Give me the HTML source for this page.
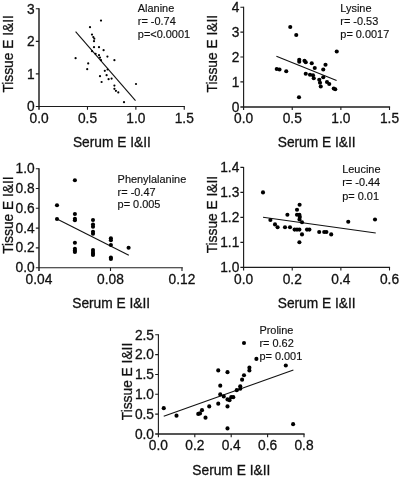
<!DOCTYPE html>
<html><head><meta charset="utf-8"><title>Correlation plots</title>
<style>
html,body{margin:0;padding:0;background:#fff;}
body{width:400px;height:477px;overflow:hidden;font-family:"Liberation Sans",sans-serif;}
svg{display:block;will-change:transform;filter:grayscale(1);}
text{font-family:"Liberation Sans",sans-serif;fill:#111;stroke:#111;stroke-width:0.3px;}
.ax{font-size:14.2px;}
.an{font-size:11.4px;stroke-width:0.16px;}
circle{fill:#000;}
</style></head><body>
<svg width="400" height="477" viewBox="0 0 400 477"><rect width="400" height="477" fill="#fff"/><g><line x1="39.0" y1="8.3" x2="39.0" y2="109.7" stroke="#1c1c1c" stroke-width="1.45"/><line x1="35.8" y1="106.5" x2="184.9" y2="106.5" stroke="#1c1c1c" stroke-width="1.05"/><path d="M87.48 106.5v3.2M135.87 106.5v3.2M184.25 106.5v3.2M39.0 73.9h-3.2M39.0 41.35h-3.2M39.0 8.8h-3.2" fill="none" stroke="#1c1c1c" stroke-width="1.1"/><text transform="translate(39.1 122.8) scale(0.97 1)" text-anchor="middle" class="ax">0.0</text><text transform="translate(87.48 122.8) scale(0.97 1)" text-anchor="middle" class="ax">0.5</text><text transform="translate(135.87 122.8) scale(0.97 1)" text-anchor="middle" class="ax">1.0</text><text transform="translate(184.25 122.8) scale(0.97 1)" text-anchor="middle" class="ax">1.5</text><text transform="translate(34.7 111.15) scale(0.97 1)" text-anchor="end" class="ax">0</text><text transform="translate(34.7 78.6) scale(0.97 1)" text-anchor="end" class="ax">1</text><text transform="translate(34.7 46.05) scale(0.97 1)" text-anchor="end" class="ax">2</text><text transform="translate(34.7 13.5) scale(0.97 1)" text-anchor="end" class="ax">3</text><text transform="translate(111.9 146.7) scale(0.97 1)" text-anchor="middle" class="ax">Serum E I&amp;II</text><text transform="translate(12.9 53.9) rotate(-90) scale(0.97 1)" text-anchor="middle" class="ax">Tissue E I&amp;II</text><text transform="translate(137.8 12.0) scale(0.96 1)" class="an">Alanine</text><text transform="translate(137.8 24.75) scale(0.96 1)" class="an">r= -0.74</text><text transform="translate(137.8 37.5) scale(0.96 1)" class="an">p=&lt;0.0001</text><line x1="75.6" y1="31.6" x2="135.5" y2="100.6" stroke="#111" stroke-width="1.1"/><circle cx="101" cy="20.6" r="1.1"/><circle cx="90" cy="27.2" r="1.1"/><circle cx="92" cy="34.6" r="1.1"/><circle cx="93.3" cy="37.1" r="1.1"/><circle cx="94.3" cy="38.7" r="1.1"/><circle cx="94" cy="41.2" r="1.1"/><circle cx="94" cy="47.2" r="1.1"/><circle cx="99" cy="47.2" r="1.1"/><circle cx="103.6" cy="50.2" r="1.1"/><circle cx="75.6" cy="58.2" r="1.1"/><circle cx="107.4" cy="56.6" r="1.1"/><circle cx="114.4" cy="60.2" r="1.1"/><circle cx="88.2" cy="63.4" r="1.1"/><circle cx="87.2" cy="69.2" r="1.1"/><circle cx="92" cy="51.2" r="1.1"/><circle cx="95.6" cy="53.8" r="1.1"/><circle cx="99" cy="55.2" r="1.1"/><circle cx="100" cy="57.6" r="1.1"/><circle cx="101" cy="60.2" r="1.1"/><circle cx="107.6" cy="69.5" r="1.1"/><circle cx="104.8" cy="70.8" r="1.1"/><circle cx="100" cy="76.2" r="1.1"/><circle cx="106.6" cy="75.2" r="1.1"/><circle cx="108.6" cy="79.2" r="1.1"/><circle cx="111.6" cy="78.6" r="1.1"/><circle cx="101.6" cy="82.0" r="1.1"/><circle cx="114.4" cy="85.6" r="1.1"/><circle cx="114.4" cy="88.8" r="1.1"/><circle cx="115.9" cy="90.8" r="1.1"/><circle cx="118.3" cy="92.4" r="1.1"/><circle cx="136" cy="84.0" r="1.1"/><circle cx="124" cy="102.2" r="1.1"/></g>
<g><line x1="243.6" y1="6.8" x2="243.6" y2="110.1" stroke="#1c1c1c" stroke-width="1.15"/><line x1="240.4" y1="106.9" x2="390.1" y2="106.9" stroke="#1c1c1c" stroke-width="1.5"/><path d="M292.23 106.9v3.2M340.87 106.9v3.2M389.5 106.9v3.2M243.6 81.92h-3.2M243.6 57.05h-3.2M243.6 32.17h-3.2M243.6 7.3h-3.2" fill="none" stroke="#1c1c1c" stroke-width="1.1"/><text transform="translate(243.6 122.9) scale(0.97 1)" text-anchor="middle" class="ax">0.0</text><text transform="translate(292.23 122.9) scale(0.97 1)" text-anchor="middle" class="ax">0.5</text><text transform="translate(340.87 122.9) scale(0.97 1)" text-anchor="middle" class="ax">1.0</text><text transform="translate(389.5 122.9) scale(0.97 1)" text-anchor="middle" class="ax">1.5</text><text transform="translate(239.3 111.6) scale(0.97 1)" text-anchor="end" class="ax">0</text><text transform="translate(239.3 86.72) scale(0.97 1)" text-anchor="end" class="ax">1</text><text transform="translate(239.3 61.85) scale(0.97 1)" text-anchor="end" class="ax">2</text><text transform="translate(239.3 36.97) scale(0.97 1)" text-anchor="end" class="ax">3</text><text transform="translate(239.3 12.1) scale(0.97 1)" text-anchor="end" class="ax">4</text><text transform="translate(316.7 147.3) scale(0.97 1)" text-anchor="middle" class="ax">Serum E I&amp;II</text><text transform="translate(216.5 53.7) rotate(-90) scale(0.97 1)" text-anchor="middle" class="ax">Tissue E I&amp;II</text><text transform="translate(340.3 11.7) scale(0.96 1)" class="an">Lysine</text><text transform="translate(340.3 24.5) scale(0.96 1)" class="an">r= -0.53</text><text transform="translate(340.3 37.5) scale(0.96 1)" class="an">p= 0.0017</text><line x1="276.4" y1="56.3" x2="336.6" y2="80.6" stroke="#111" stroke-width="1.1"/><circle cx="290.25" cy="27.0" r="2.06"/><circle cx="296.25" cy="35.0" r="2.06"/><circle cx="336.75" cy="51.5" r="2.06"/><circle cx="276.75" cy="69.0" r="2.06"/><circle cx="279.5" cy="69.5" r="2.06"/><circle cx="286.25" cy="71.25" r="2.06"/><circle cx="299.25" cy="59.75" r="2.06"/><circle cx="299.25" cy="61.75" r="2.06"/><circle cx="304.5" cy="60.75" r="2.06"/><circle cx="305.75" cy="62.25" r="2.06"/><circle cx="311.75" cy="63.25" r="2.06"/><circle cx="314.75" cy="68.0" r="2.06"/><circle cx="325.5" cy="64.75" r="2.06"/><circle cx="323.25" cy="69.5" r="2.06"/><circle cx="305.75" cy="73.75" r="2.06"/><circle cx="310" cy="74.75" r="2.06"/><circle cx="313" cy="75.25" r="2.06"/><circle cx="313.75" cy="78.25" r="2.06"/><circle cx="323.25" cy="77.25" r="2.06"/><circle cx="319.25" cy="79.75" r="2.06"/><circle cx="320" cy="82.75" r="2.06"/><circle cx="320.75" cy="86.5" r="2.06"/><circle cx="327" cy="82.0" r="2.06"/><circle cx="329.25" cy="84.0" r="2.06"/><circle cx="333.75" cy="88.5" r="2.06"/><circle cx="335.25" cy="89.25" r="2.06"/><circle cx="299.0" cy="97.25" r="2.06"/></g>
<g><line x1="39.0" y1="168.3" x2="39.0" y2="270.9" stroke="#1c1c1c" stroke-width="1.45"/><line x1="35.8" y1="267.7" x2="182.8" y2="267.7" stroke="#1c1c1c" stroke-width="1.15"/><path d="M110.5 267.7v3.2M182.0 267.7v3.2M39.0 247.84h-3.2M39.0 228.08h-3.2M39.0 208.32h-3.2M39.0 188.56h-3.2M39.0 168.8h-3.2" fill="none" stroke="#1c1c1c" stroke-width="1.1"/><text transform="translate(39.0 284.1) scale(0.97 1)" text-anchor="middle" class="ax">0.04</text><text transform="translate(110.5 284.1) scale(0.97 1)" text-anchor="middle" class="ax">0.08</text><text transform="translate(182.0 284.1) scale(0.97 1)" text-anchor="middle" class="ax">0.12</text><text transform="translate(34.6 272.2) scale(0.97 1)" text-anchor="end" class="ax">0.0</text><text transform="translate(34.6 252.44) scale(0.97 1)" text-anchor="end" class="ax">0.2</text><text transform="translate(34.6 232.68) scale(0.97 1)" text-anchor="end" class="ax">0.4</text><text transform="translate(34.6 212.92) scale(0.97 1)" text-anchor="end" class="ax">0.6</text><text transform="translate(34.6 193.16) scale(0.97 1)" text-anchor="end" class="ax">0.8</text><text transform="translate(34.6 173.4) scale(0.97 1)" text-anchor="end" class="ax">1.0</text><text transform="translate(111.2 307.7) scale(0.97 1)" text-anchor="middle" class="ax">Serum E I&amp;II</text><text transform="translate(13.0 215.1) rotate(-90) scale(0.97 1)" text-anchor="middle" class="ax">Tissue E I&amp;II</text><text transform="translate(117.6 182.6) scale(0.96 1)" class="an">Phenylalanine</text><text transform="translate(117.6 195.5) scale(0.96 1)" class="an">r= -0.47</text><text transform="translate(117.6 208.4) scale(0.96 1)" class="an">p= 0.005</text><line x1="57" y1="219" x2="128.8" y2="255.3" stroke="#111" stroke-width="1.1"/><circle cx="57.0" cy="205.25" r="2.06"/><circle cx="57.0" cy="219" r="2.06"/><circle cx="74.9" cy="180.25" r="2.06"/><circle cx="74.9" cy="214" r="2.06"/><circle cx="74.9" cy="218.75" r="2.06"/><circle cx="74.9" cy="220.25" r="2.06"/><circle cx="74.9" cy="242.75" r="2.06"/><circle cx="74.9" cy="248.75" r="2.06"/><circle cx="74.9" cy="250.5" r="2.06"/><circle cx="74.9" cy="252" r="2.06"/><circle cx="93.0" cy="220" r="2.06"/><circle cx="93.0" cy="224.5" r="2.06"/><circle cx="93.0" cy="226.75" r="2.06"/><circle cx="93.0" cy="231.75" r="2.06"/><circle cx="93.0" cy="233.75" r="2.06"/><circle cx="93.0" cy="250" r="2.06"/><circle cx="93.0" cy="252" r="2.06"/><circle cx="93.0" cy="253.75" r="2.06"/><circle cx="93.0" cy="255" r="2.06"/><circle cx="110.9" cy="238.25" r="2.06"/><circle cx="110.9" cy="240.25" r="2.06"/><circle cx="110.9" cy="245" r="2.06"/><circle cx="110.9" cy="257.5" r="2.06"/><circle cx="110.9" cy="259" r="2.06"/><circle cx="128.6" cy="247.75" r="2.06"/></g>
<g><line x1="243.6" y1="166.9" x2="243.6" y2="270.6" stroke="#1c1c1c" stroke-width="1.15"/><line x1="240.4" y1="267.4" x2="390.1" y2="267.4" stroke="#1c1c1c" stroke-width="1.4"/><path d="M292.23 267.4v3.2M340.87 267.4v3.2M389.5 267.4v3.2M243.6 242.33h-3.2M243.6 217.35h-3.2M243.6 192.38h-3.2M243.6 167.4h-3.2" fill="none" stroke="#1c1c1c" stroke-width="1.1"/><text transform="translate(243.6 283.5) scale(0.97 1)" text-anchor="middle" class="ax">0.0</text><text transform="translate(292.23 283.5) scale(0.97 1)" text-anchor="middle" class="ax">0.2</text><text transform="translate(340.87 283.5) scale(0.97 1)" text-anchor="middle" class="ax">0.4</text><text transform="translate(389.5 283.5) scale(0.97 1)" text-anchor="middle" class="ax">0.6</text><text transform="translate(239.3 271.7) scale(0.97 1)" text-anchor="end" class="ax">1.0</text><text transform="translate(239.3 246.73) scale(0.97 1)" text-anchor="end" class="ax">1.1</text><text transform="translate(239.3 221.75) scale(0.97 1)" text-anchor="end" class="ax">1.2</text><text transform="translate(239.3 196.78) scale(0.97 1)" text-anchor="end" class="ax">1.3</text><text transform="translate(239.3 171.8) scale(0.97 1)" text-anchor="end" class="ax">1.4</text><text transform="translate(316.7 308.0) scale(0.97 1)" text-anchor="middle" class="ax">Serum E I&amp;II</text><text transform="translate(216.5 214.6) rotate(-90) scale(0.97 1)" text-anchor="middle" class="ax">Tissue E I&amp;II</text><text transform="translate(342.2 173) scale(0.96 1)" class="an">Leucine</text><text transform="translate(342.2 186.3) scale(0.96 1)" class="an">r= -0.44</text><text transform="translate(342.2 199.5) scale(0.96 1)" class="an">p= 0.01</text><line x1="263" y1="217.2" x2="375.75" y2="233" stroke="#111" stroke-width="1.1"/><circle cx="263" cy="192.4" r="2.06"/><circle cx="270.4" cy="220" r="2.06"/><circle cx="275" cy="224.4" r="2.06"/><circle cx="277.6" cy="227.2" r="2.06"/><circle cx="285" cy="227.2" r="2.06"/><circle cx="290" cy="227.2" r="2.06"/><circle cx="287.4" cy="214.8" r="2.06"/><circle cx="299.6" cy="204.8" r="2.06"/><circle cx="297" cy="209.8" r="2.06"/><circle cx="297" cy="214.8" r="2.06"/><circle cx="299.4" cy="214.8" r="2.06"/><circle cx="299.8" cy="216.9" r="2.06"/><circle cx="299.5" cy="219.4" r="2.06"/><circle cx="302" cy="222.2" r="2.06"/><circle cx="294.6" cy="229.6" r="2.06"/><circle cx="297" cy="229.6" r="2.06"/><circle cx="299.4" cy="229.6" r="2.06"/><circle cx="307" cy="229.6" r="2.06"/><circle cx="309.4" cy="229.6" r="2.06"/><circle cx="302" cy="234.4" r="2.06"/><circle cx="299.4" cy="242.2" r="2.06"/><circle cx="319.2" cy="232" r="2.06"/><circle cx="324.2" cy="232" r="2.06"/><circle cx="326.4" cy="232" r="2.06"/><circle cx="331.2" cy="234.4" r="2.06"/><circle cx="348.25" cy="221.75" r="2.06"/><circle cx="375" cy="219.5" r="2.06"/></g>
<g><line x1="158.4" y1="334.3" x2="158.4" y2="437.25" stroke="#1c1c1c" stroke-width="1.1"/><line x1="155.2" y1="434.05" x2="304.6" y2="434.05" stroke="#1c1c1c" stroke-width="1.5"/><path d="M194.8 434.05v3.2M231.2 434.05v3.2M267.6 434.05v3.2M304.0 434.05v3.2M158.4 414.16h-3.2M158.4 394.32h-3.2M158.4 374.48h-3.2M158.4 354.64h-3.2M158.4 334.8h-3.2" fill="none" stroke="#1c1c1c" stroke-width="1.1"/><text transform="translate(158.4 450.4) scale(0.97 1)" text-anchor="middle" class="ax">0.0</text><text transform="translate(194.8 450.4) scale(0.97 1)" text-anchor="middle" class="ax">0.2</text><text transform="translate(231.2 450.4) scale(0.97 1)" text-anchor="middle" class="ax">0.4</text><text transform="translate(267.6 450.4) scale(0.97 1)" text-anchor="middle" class="ax">0.6</text><text transform="translate(304.0 450.4) scale(0.97 1)" text-anchor="middle" class="ax">0.8</text><text transform="translate(154.0 438.7) scale(0.97 1)" text-anchor="end" class="ax">0.0</text><text transform="translate(154.0 418.86) scale(0.97 1)" text-anchor="end" class="ax">0.5</text><text transform="translate(154.0 399.02) scale(0.97 1)" text-anchor="end" class="ax">1.0</text><text transform="translate(154.0 379.18) scale(0.97 1)" text-anchor="end" class="ax">1.5</text><text transform="translate(154.0 359.34) scale(0.97 1)" text-anchor="end" class="ax">2.0</text><text transform="translate(154.0 339.5) scale(0.97 1)" text-anchor="end" class="ax">2.5</text><text transform="translate(231.3 475.2) scale(0.97 1)" text-anchor="middle" class="ax">Serum E I&amp;II</text><text transform="translate(131.8 381.5) rotate(-90) scale(0.97 1)" text-anchor="middle" class="ax">Tissue E I&amp;II</text><text transform="translate(259.4 333.6) scale(0.96 1)" class="an">Proline</text><text transform="translate(259.4 347.1) scale(0.96 1)" class="an">r= 0.62</text><text transform="translate(259.4 359.9) scale(0.96 1)" class="an">p= 0.001</text><line x1="163.75" y1="416.25" x2="293.4" y2="370" stroke="#111" stroke-width="1.1"/><circle cx="163.75" cy="408.15" r="2.06"/><circle cx="176.5" cy="415.65" r="2.06"/><circle cx="198.25" cy="413.9" r="2.06"/><circle cx="200" cy="413.4" r="2.06"/><circle cx="202" cy="410.15" r="2.06"/><circle cx="205.5" cy="417.65" r="2.06"/><circle cx="209.25" cy="406.4" r="2.06"/><circle cx="218.25" cy="370.4" r="2.06"/><circle cx="220.25" cy="385.65" r="2.06"/><circle cx="220.25" cy="394.4" r="2.06"/><circle cx="218.25" cy="403.65" r="2.06"/><circle cx="223.75" cy="396.4" r="2.06"/><circle cx="227.5" cy="372.15" r="2.06"/><circle cx="227.5" cy="399.4" r="2.06"/><circle cx="229.5" cy="400.15" r="2.06"/><circle cx="227.5" cy="406.4" r="2.06"/><circle cx="231.25" cy="397.15" r="2.06"/><circle cx="233.25" cy="397.15" r="2.06"/><circle cx="227.5" cy="428.4" r="2.06"/><circle cx="236.75" cy="390.15" r="2.06"/><circle cx="240.25" cy="388.75" r="2.06"/><circle cx="240.25" cy="386.35" r="2.06"/><circle cx="242.1" cy="379.65" r="2.06"/><circle cx="244" cy="375.25" r="2.06"/><circle cx="244" cy="342.95" r="2.06"/><circle cx="249.4" cy="367.65" r="2.06"/><circle cx="249.4" cy="370.55" r="2.06"/><circle cx="256.4" cy="358.9" r="2.06"/><circle cx="285.8" cy="365.45" r="2.06"/><circle cx="293.1" cy="424.15" r="2.06"/></g>
</svg>
</body></html>
